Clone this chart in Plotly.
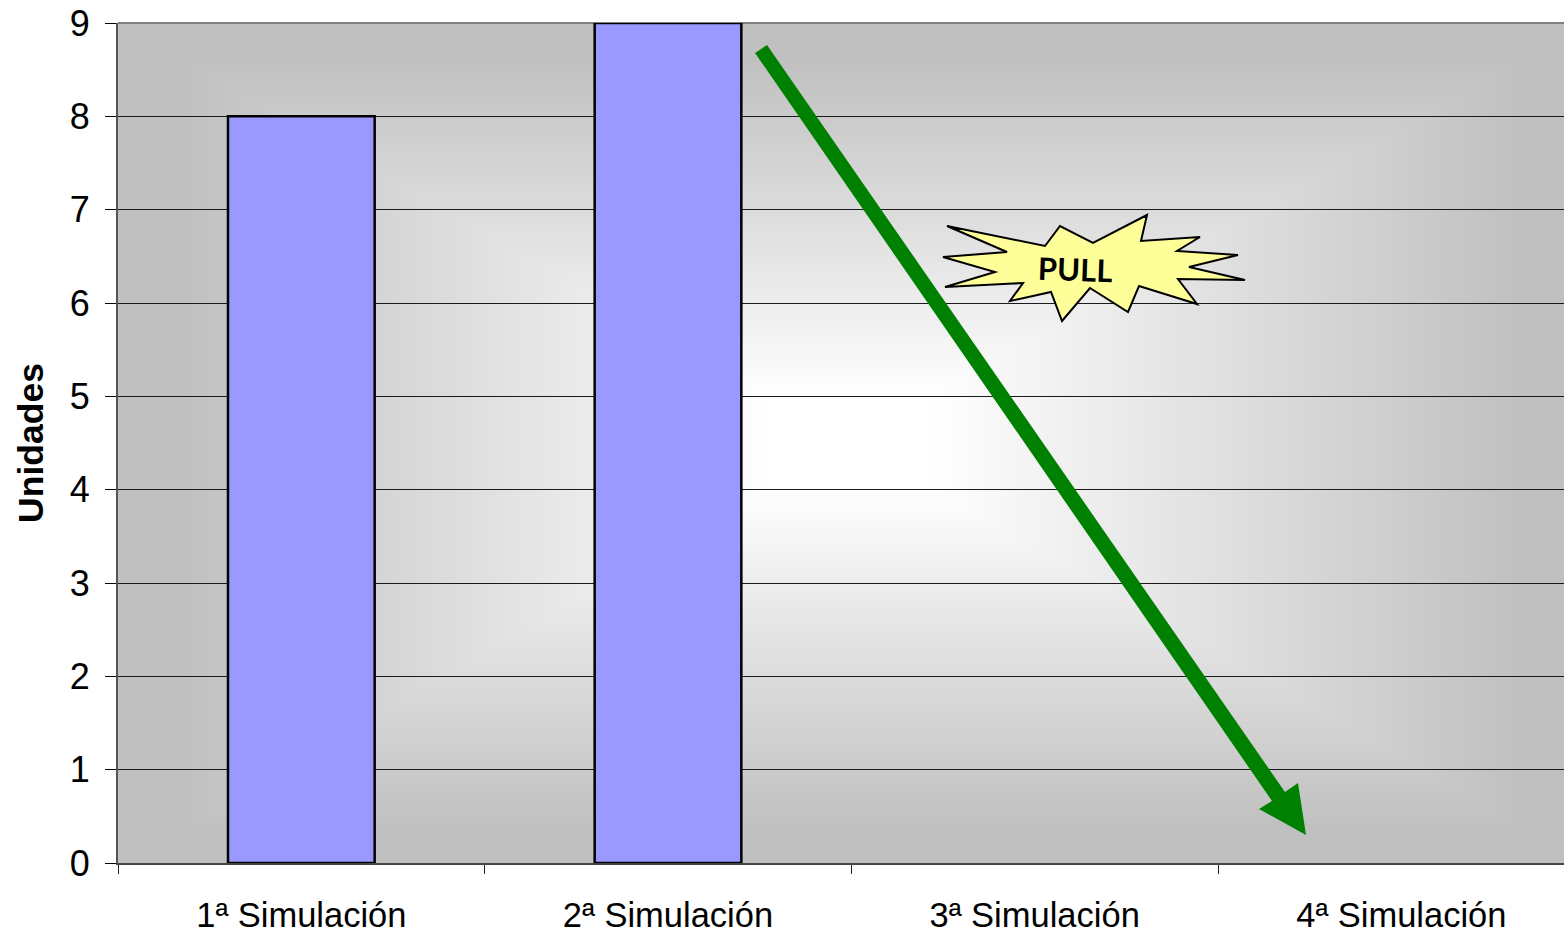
import plotly.graph_objects as go

categories = ["1ª Simulación", "2ª Simulación", "3ª Simulación", "4ª Simulación"]
units = [8, 9, None, None]
y_ticks = list(range(0, 10))
pull_label = "PULL"

W, H = 1564, 933
L, R, T, B = 118, 1564, 23, 863
CAT_W = 366.67


def px(x):
    return (x - L) / (R - L)


def py(y):
    return (B - y) / (B - T)


def path(points):
    return "M " + " L ".join(f"{px(x):.5f},{py(y):.5f}" for x, y in points) + " Z"


# Rectangular path gradient behind the plot: 64 grey levels from the edge to the centre
shapes = [dict(type="rect", xref="paper", yref="paper", layer="below", x0=0, x1=1, y0=0, y1=1,
               line=dict(width=0), fillcolor="#C0C0C0")]
cx, cy = L + 2 * CAT_W, (T + B) / 2
hw, hh = 2 * CAT_W, (B - T) / 2
levels = 64
f_outer, f_inner = 0.92, 0.11
for i in range(levels):
    f = f_outer - (f_outer - f_inner) * i / (levels - 1)
    g = 0xC0 + i
    shapes.append(dict(type="rect", xref="paper", yref="paper", layer="below",
                       x0=px(cx - hw * f), x1=px(cx + hw * f),
                       y0=py(cy + hh * f), y1=py(cy - hh * f),
                       line=dict(width=0), fillcolor=f"rgb({g},{g},{g})"))

# Top edge of plot area
shapes.append(dict(type="line", xref="paper", yref="paper", layer="below", x0=0, x1=1, y0=1, y1=1,
                   line=dict(color="#808080", width=2)))

arrow_outline = [(755, 53), (767, 45), (1285, 792), (1298, 783), (1306, 835),
                 (1259, 809), (1272, 801)]
shapes.append(dict(type="path", xref="paper", yref="paper", path=path(arrow_outline),
                   fillcolor="#008000", line=dict(width=0)))

burst_outline = [(947, 226), (1045, 246), (1060, 226), (1093, 243), (1147, 215),
                 (1141, 241), (1200, 237), (1177, 251), (1238, 255), (1189, 267),
                 (1245, 280), (1178, 279), (1197, 304), (1139, 286), (1128, 312),
                 (1090, 288), (1062, 321), (1051, 292), (1010, 301), (1023, 283),
                 (945, 287), (995, 272), (943, 257), (1007, 252)]
shapes.append(dict(type="path", xref="paper", yref="paper", path=path(burst_outline),
                   fillcolor="#FFFF99", line=dict(color="black", width=2)))

fig = go.Figure(go.Bar(
    x=categories, y=units,
    marker=dict(color="#9999FF", line=dict(color="black", width=2.5)),
    cliponaxis=False,
    showlegend=False,
))

fig.update_layout(
    width=W, height=H,
    margin=dict(l=L, r=W - R, t=T, b=H - B, pad=0),
    paper_bgcolor="white",
    plot_bgcolor="rgba(0,0,0,0)",
    bargap=0.6,
    font=dict(family="Liberation Sans, Arial, sans-serif", color="black"),
    shapes=shapes,
    annotations=[dict(xref="paper", yref="paper", x=px(1075), y=py(269), text=f"<b>{pull_label}</b>",
                      showarrow=False, textangle=2, xanchor="center", yanchor="middle",
                      font=dict(family="Lato, sans-serif", size=31, color="black"))],
)
fig.update_xaxes(
    type="category", categoryorder="array", categoryarray=categories,
    range=[-0.5, -0.5 + (R - L) / CAT_W],
    tickson="boundaries", ticks="outside", ticklen=9, tickwidth=1, tickcolor="#222",
    showgrid=False, showline=True, linecolor="#444", linewidth=2,
    tickfont=dict(size=34.5), ticklabelstandoff=21, zeroline=False,
)
fig.update_yaxes(
    range=[0, 9], tickmode="array", tickvals=y_ticks,
    ticks="outside", ticklen=11, tickwidth=1, tickcolor="black",
    showgrid=True, gridcolor="#1a1a1a", gridwidth=1, zeroline=False,
    showline=True, linecolor="#555", linewidth=2,
    tickfont=dict(size=36), ticklabelstandoff=8,
    title=dict(text="<b>Unidades</b>", font=dict(size=35.5), standoff=15),
)

fig.write_html("out.html", config={"displayModeBar": False},
               post_script="document.body.style.margin='0';")
